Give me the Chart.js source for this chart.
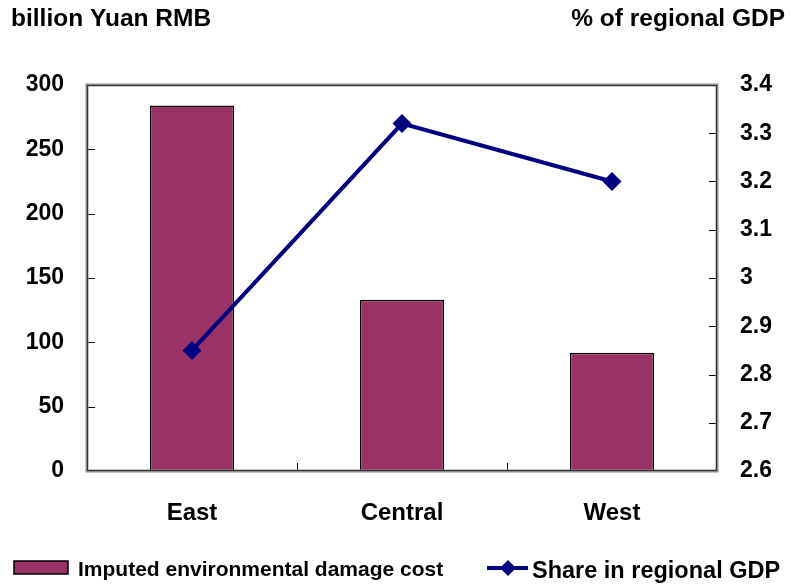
<!DOCTYPE html>
<html>
<head>
<meta charset="utf-8">
<script src="https://cdn.jsdelivr.net/npm/chart.js@4/dist/chart.umd.min.js"></script>
<style>
  html, body { margin: 0; padding: 0; background: #fff; }
  #wrap { width: 790px; height: 584px; position: relative; }
</style>
</head>
<body>
<div id="wrap"><canvas id="c" width="790" height="584"></canvas></div>
<script>
// Regional imputed environmental damage cost and its share in regional GDP
const regions = ['East', 'Central', 'West'];
const damageCost = [284, 133, 92];          // billion Yuan RMB
const gdpShare = [2.85, 3.32, 3.2];         // % of regional GDP
const leftTicks = [0, 50, 100, 150, 200, 250, 300];
const rightTicks = [2.6, 2.7, 2.8, 2.9, 3.0, 3.1, 3.2, 3.3, 3.4];

const BAR_LABEL = 'Imputed environmental damage cost';
const LINE_LABEL = 'Share in regional GDP';
const LEFT_TITLE = 'billion Yuan RMB';
const RIGHT_TITLE = '% of regional GDP';

const FONT = '"Liberation Sans", Arial, sans-serif';
const BAR_COLOR = '#993366';
const LINE_COLOR = '#000080';

// Frame, inward ticks, axis titles and legend
const decorations = {
  id: 'decorations',
  afterDatasetsDraw(chart) {
    const ctx = chart.ctx;
    const a = chart.chartArea;
    const x = chart.scales.x, y = chart.scales.y, y1 = chart.scales.y1;
    ctx.save();

    // inward tick marks
    ctx.strokeStyle = '#000';
    ctx.lineWidth = 1;
    ctx.beginPath();
    leftTicks.forEach(v => {
      const py = Math.round(y.getPixelForValue(v)) + 0.5;
      ctx.moveTo(a.left, py); ctx.lineTo(a.left + 8, py);
    });
    rightTicks.forEach(v => {
      const py = Math.round(y1.getPixelForValue(v)) + 0.5;
      ctx.moveTo(a.right, py); ctx.lineTo(a.right - 8, py);
    });
    for (let i = 0; i < regions.length - 1; i++) {
      const px = Math.round((x.getPixelForValue(i) + x.getPixelForValue(i + 1)) / 2) + 0.5;
      ctx.moveTo(px, a.bottom); ctx.lineTo(px, a.bottom - 8);
    }
    ctx.stroke();

    // plot frame
    ctx.strokeStyle = '#8c8c8c';
    ctx.lineWidth = 3;
    ctx.strokeRect(a.left, a.top, a.right - a.left, a.bottom - a.top);
    ctx.strokeStyle = '#333';
    ctx.lineWidth = 1;
    ctx.strokeRect(a.left + 0.5, a.top + 0.5, a.right - a.left - 1, a.bottom - a.top - 1);

    // axis titles
    ctx.fillStyle = '#000';
    ctx.textBaseline = 'alphabetic';
    ctx.font = 'bold 24.5px ' + FONT;
    ctx.textAlign = 'left';
    ctx.fillText(LEFT_TITLE, 11, 26);
    ctx.textAlign = 'right';
    ctx.fillText(RIGHT_TITLE, 785, 26);

    // legend: bar swatch
    ctx.fillStyle = BAR_COLOR;
    ctx.fillRect(14, 561, 54, 13);
    ctx.strokeStyle = '#000';
    ctx.lineWidth = 1.5;
    ctx.strokeRect(14, 561, 54, 13);
    ctx.fillStyle = '#000';
    ctx.font = 'bold 21px ' + FONT;
    ctx.textAlign = 'left';
    ctx.fillText(BAR_LABEL, 78, 576);

    // legend: line with diamond
    ctx.strokeStyle = LINE_COLOR;
    ctx.lineWidth = 4;
    ctx.beginPath();
    ctx.moveTo(487, 568); ctx.lineTo(528, 568);
    ctx.stroke();
    ctx.fillStyle = LINE_COLOR;
    ctx.beginPath();
    ctx.moveTo(508, 560); ctx.lineTo(516, 568); ctx.lineTo(508, 576); ctx.lineTo(500, 568);
    ctx.closePath();
    ctx.fill();
    ctx.fillStyle = '#000';
    ctx.font = 'bold 23.5px ' + FONT;
    ctx.fillText(LINE_LABEL, 532, 578);

    ctx.restore();
  }
};

const fmt = v => String(Number(Number(v).toFixed(1)));

new Chart(document.getElementById('c'), {
  data: {
    labels: regions,
    datasets: [
      {
        type: 'line',
        label: LINE_LABEL,
        data: gdpShare,
        yAxisID: 'y1',
        borderColor: LINE_COLOR,
        backgroundColor: LINE_COLOR,
        borderWidth: 4,
        pointStyle: 'rectRot',
        pointRadius: 9.5,
        pointHoverRadius: 9.5,
        pointBorderWidth: 0,
        tension: 0,
        order: 0
      },
      {
        type: 'bar',
        label: BAR_LABEL,
        data: damageCost,
        yAxisID: 'y',
        backgroundColor: BAR_COLOR,
        borderColor: '#000',
        borderWidth: 1.5,
        categoryPercentage: 1,
        barPercentage: 0.4,
        order: 1
      }
    ]
  },
  options: {
    responsive: false,
    animation: false,
    events: [],
    layout: { padding: { top: 85, left: 0, right: 0, bottom: 0 } },
    plugins: { legend: { display: false }, tooltip: { enabled: false } },
    scales: {
      x: {
        type: 'category',
        offset: true,
        grid: { display: false, drawTicks: false },
        border: { display: false },
        ticks: { color: '#000', font: { family: FONT, size: 24, weight: 'bold' }, padding: 28, maxRotation: 0 },
        afterFit(s) { s.height = 113; }
      },
      y: {
        position: 'left',
        min: 0, max: 300,
        afterBuildTicks(s) { s.ticks = leftTicks.map(v => ({ value: v })); },
        grid: { display: false, drawTicks: false },
        border: { display: false },
        ticks: { color: '#000', font: { family: FONT, size: 23, weight: 'bold' }, padding: 23 },
        afterFit(s) { s.width = 87; }
      },
      y1: {
        position: 'right',
        min: 2.6, max: 3.4,
        afterBuildTicks(s) { s.ticks = rightTicks.map(v => ({ value: v })); },
        grid: { display: false, drawTicks: false },
        border: { display: false },
        ticks: { color: '#000', font: { family: FONT, size: 23, weight: 'bold' }, padding: 23, callback: fmt },
        afterFit(s) { s.width = 73; }
      }
    }
  },
  plugins: [decorations]
});
</script>
</body>
</html>
